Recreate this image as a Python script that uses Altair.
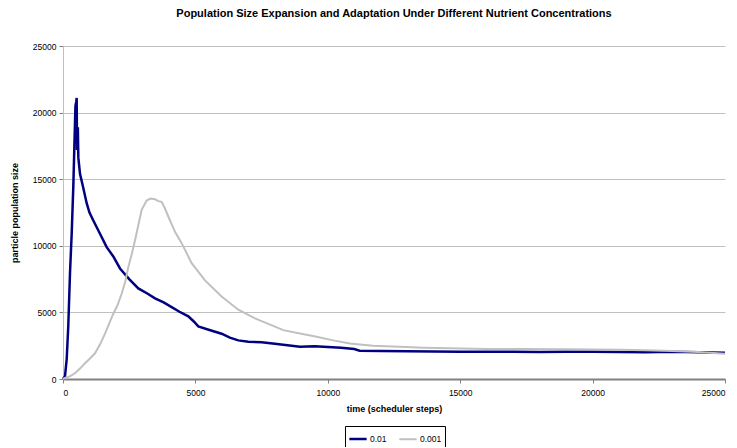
import altair as alt
import pandas as pd

t_blue = [0, 75, 140, 200, 265, 330, 390, 430, 470, 500, 516, 530, 560, 580, 642, 760, 894, 1000,
          1145, 1397, 1649, 1900, 2152, 2500, 2844, 3200, 3474, 3800, 4103, 4400, 4732, 4950,
          5109, 5500, 5990, 6300, 6620, 7000, 7500, 8000, 8950, 9500, 10000, 10500, 11000,
          11200, 12000, 13000, 14000, 15000, 16000, 17000, 18000, 19000, 20000, 21000, 22000,
          23000, 24000, 25000]
v_blue = [0, 200, 1500, 4000, 8000, 11000, 14500, 17500, 20500, 20800, 21100, 17200, 18900, 16600,
          15400, 14400, 13200, 12500, 11900, 10900, 9900, 9200, 8300, 7500, 6800, 6400, 6050,
          5750, 5400, 5050, 4700, 4300, 3950, 3700, 3400, 3100, 2900, 2800, 2750, 2650, 2420,
          2450, 2400, 2350, 2250, 2120, 2100, 2080, 2060, 2050, 2050, 2050, 2030, 2050, 2050,
          2030, 2000, 2050, 2000, 1980]

t_gray = [0, 75, 250, 453, 650, 830, 1000, 1208, 1400, 1586, 1750, 1900, 2050, 2215, 2350, 2466,
          2600, 2718, 2850, 2970, 3160, 3300, 3474, 3600, 3725, 3850, 3977, 4229, 4481, 4858,
          5362, 5990, 6620, 7250, 7800, 8320, 9000, 9580, 10200, 10837, 11700, 12725, 13600,
          14613, 16000, 17500, 19000, 20000, 21000, 22000, 23000, 24000, 25000]
v_gray = [0, 80, 200, 430, 800, 1180, 1500, 1930, 2600, 3400, 4200, 4900, 5500, 6400, 7300, 8400,
          9400, 10400, 11600, 12700, 13400, 13550, 13500, 13350, 13300, 12800, 12200, 11050,
          10200, 8700, 7400, 6200, 5200, 4550, 4100, 3670, 3400, 3170, 2900, 2670, 2500, 2420,
          2350, 2300, 2260, 2250, 2230, 2220, 2200, 2150, 2100, 2020, 1900]

series = ["0.01", "0.001"]
colors = ["#000080", "#c0c0c0"]

df = pd.concat([
    pd.DataFrame({"t": t_blue, "v": v_blue, "s": series[0], "o": 0}),
    pd.DataFrame({"t": t_gray, "v": v_gray, "s": series[1], "o": 1}),
])

FONT = "Liberation Sans"

chart = alt.Chart(df).mark_line(interpolate="linear").encode(
    x=alt.X("t:Q", scale=alt.Scale(domain=[0, 25000], nice=False),
            axis=alt.Axis(title="time (scheduler steps)", values=[0, 5000, 10000, 15000, 20000, 25000],
                          grid=False, domainColor="#808080", domainWidth=2, tickColor="#808080",
                          tickSize=4, labelPadding=5, titlePadding=8, format="d")),
    y=alt.Y("v:Q", scale=alt.Scale(domain=[0, 25000], nice=False),
            axis=alt.Axis(title="particle population size", values=[0, 5000, 10000, 15000, 20000, 25000],
                          grid=True, gridColor="#c0c0c0", domainColor="#c0c0c0", tickColor="#808080",
                          tickSize=4, labelPadding=3, titlePadding=13, format="d")),
    color=alt.Color("s:N", scale=alt.Scale(domain=series, range=colors),
                    legend=alt.Legend(title=None, orient="none", legendX=282, legendY=380,
                                      direction="horizontal", strokeColor="#000000", padding=3,
                                      symbolType="stroke", symbolSize=300, symbolStrokeWidth=2.5,
                                      labelFontSize=8.5, labelFont=FONT, columnPadding=8,
                                      labelOffset=2)),
    strokeWidth=alt.StrokeWidth("s:N", scale=alt.Scale(domain=series, range=[2.5, 2]), legend=None),
    order="o:Q",
).properties(
    width=662, height=333,
    title=alt.Title("Population Size Expansion and Adaptation Under Different Nutrient Concentrations",
                    fontSize=11, font=FONT, fontWeight="bold", anchor="middle", offset=23),
    autosize=alt.AutoSizeParams(type="none"),
    padding={"left": 55, "top": 38, "right": 4, "bottom": 68},
).configure_axis(
    labelFont=FONT, labelFontSize=8.5, labelColor="#000000",
    titleFont=FONT, titleFontSize=9, titleFontWeight="bold", titleColor="#000000",
).configure_view(stroke=None)

chart.save("out.html", embed_options={"renderer": "svg", "actions": False})
